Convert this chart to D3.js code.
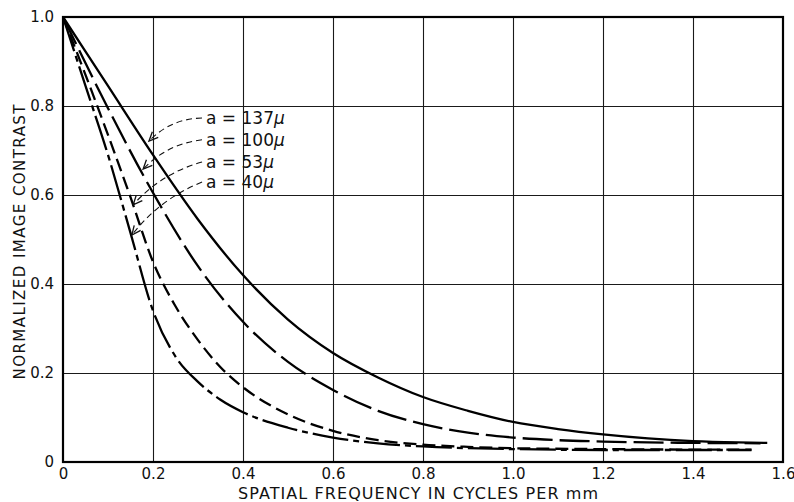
<!DOCTYPE html>
<html>
<head>
<meta charset="utf-8">
<script src="https://cdn.jsdelivr.net/npm/d3@7"></script>
<style>
  html, body { margin: 0; padding: 0; background: #fff; }
  svg { display: block; }
  text { font-family: "DejaVu Sans", "Liberation Sans", sans-serif; fill: #111; }
</style>
</head>
<body>
<svg id="chart" width="794" height="502"></svg>
<script>
// Spatial frequency (cycles per mm) and normalized contrast for each aperture size
const freq137 = [0, 0.1, 0.2, 0.3, 0.4, 0.5, 0.6, 0.7, 0.8, 0.9, 1.0, 1.1, 1.2, 1.3, 1.4, 1.5, 1.565];
const con137  = [1, 0.845, 0.69, 0.545, 0.42, 0.32, 0.245, 0.19, 0.146, 0.115, 0.09, 0.074, 0.062, 0.053, 0.047, 0.044, 0.043];

const freq100 = [0, 0.1, 0.2, 0.3, 0.4, 0.5, 0.6, 0.7, 0.8, 0.9, 1.0, 1.1, 1.2, 1.3, 1.4, 1.55];
const con100  = [1, 0.795, 0.605, 0.44, 0.315, 0.225, 0.162, 0.115, 0.085, 0.066, 0.055, 0.049, 0.046, 0.044, 0.043, 0.042];

const freq53 = [0, 0.05, 0.1, 0.15, 0.2, 0.25, 0.3, 0.35, 0.4, 0.5, 0.6, 0.7, 0.8, 0.9, 1.0, 1.2, 1.4, 1.53];
const con53  = [1, 0.87, 0.735, 0.595, 0.45, 0.35, 0.274, 0.213, 0.168, 0.107, 0.07, 0.049, 0.039, 0.034, 0.031, 0.029, 0.028, 0.028];

const freq40 = [0, 0.05, 0.1, 0.15, 0.2, 0.25, 0.3, 0.35, 0.4, 0.5, 0.6, 0.7, 0.8, 0.9, 1.0, 1.2, 1.4, 1.53];
const con40  = [1, 0.845, 0.69, 0.515, 0.34, 0.237, 0.18, 0.14, 0.112, 0.077, 0.055, 0.042, 0.035, 0.031, 0.029, 0.027, 0.027, 0.027];

const seriesNames = ["a = 137", "a = 100", "a = 53", "a = 40"];

// Axis ticks
const xTickValues = [0, 0.2, 0.4, 0.6, 0.8, 1.0, 1.2, 1.4, 1.6];
const xTickLabels = ["0", "0.2", "0.4", "0.6", "0.8", "1.0", "1.2", "1.4", "1.6"];
const yTickValues = [0, 0.2, 0.4, 0.6, 0.8, 1.0];
const yTickLabels = ["0", "0.2", "0.4", "0.6", "0.8", "1.0"];

// Callout leaders: label anchor and arrow tip, in data units
const noteStartX = [0.309, 0.309, 0.309, 0.309];
const noteStartY = [0.773, 0.724, 0.674, 0.629];
const noteTipX = [0.191, 0.178, 0.156, 0.153];
const noteTipY = [0.721, 0.658, 0.578, 0.510];

const xTitle = "SPATIAL FREQUENCY IN CYCLES PER mm";
const yTitle = "NORMALIZED IMAGE CONTRAST";

const W = 794, H = 502;
const margin = { left: 63, top: 17, right: 11, bottom: 40 };
const innerW = W - margin.left - margin.right;
const innerH = H - margin.top - margin.bottom;

const x = d3.scaleLinear().domain([0, 1.6]).range([margin.left, margin.left + innerW]);
const y = d3.scaleLinear().domain([0, 1]).range([margin.top + innerH, margin.top]);

const svg = d3.select("#chart");

// Grid
const gx = svg.append("g")
  .attr("transform", `translate(0,${margin.top + innerH})`)
  .call(d3.axisBottom(x).tickValues(xTickValues.slice(1, -1)).tickSize(-innerH).tickFormat(""));
gx.select(".domain").remove();
gx.selectAll("line").attr("stroke", "#1a1a1a").attr("stroke-width", 1.1);

const gy = svg.append("g")
  .attr("transform", `translate(${margin.left},0)`)
  .call(d3.axisLeft(y).tickValues(yTickValues.slice(1, -1)).tickSize(-innerW).tickFormat(""));
gy.select(".domain").remove();
gy.selectAll("line").attr("stroke", "#1a1a1a").attr("stroke-width", 1.1);

// Tick labels
const ax = svg.append("g")
  .attr("transform", `translate(0,${margin.top + innerH})`)
  .call(d3.axisBottom(x).tickValues(xTickValues).tickSize(0).tickPadding(6)
    .tickFormat((d, i) => xTickLabels[i]));
ax.select(".domain").remove();
ax.selectAll("text").attr("font-size", 15).attr("fill", "#111")
  .attr("font-family", "DejaVu Sans, sans-serif");

const ay = svg.append("g")
  .attr("transform", `translate(${margin.left},0)`)
  .call(d3.axisLeft(y).tickValues(yTickValues).tickSize(0).tickPadding(9)
    .tickFormat((d, i) => yTickLabels[i]));
ay.select(".domain").remove();
ay.selectAll("text").attr("font-size", 15).attr("fill", "#111")
  .attr("font-family", "DejaVu Sans, sans-serif");

// Frame
svg.append("rect")
  .attr("x", x(0)).attr("y", y(1))
  .attr("width", x(1.6) - x(0)).attr("height", y(0) - y(1))
  .attr("fill", "none").attr("stroke", "#000").attr("stroke-width", 2.2);

// Curves
const series = [
  { xs: freq137, ys: con137, dash: null },
  { xs: freq100, ys: con100, dash: "30,7" },
  { xs: freq53,  ys: con53,  dash: "13,6" },
  { xs: freq40,  ys: con40,  dash: "36,5,6,5" }
];

const line = d3.line()
  .x(d => x(d[0]))
  .y(d => y(d[1]))
  .curve(d3.curveMonotoneX);

series.forEach((s, i) => {
  const pts = s.xs.map((v, j) => [v, s.ys[j]]);
  svg.append("path")
    .datum(pts)
    .attr("d", line)
    .attr("fill", "none")
    .attr("stroke", "#000")
    .attr("stroke-width", 2.3)
    .attr("stroke-dasharray", s.dash)
    .attr("class", "curve-" + i);
});

// Callouts
seriesNames.forEach((name, i) => {
  const sx = x(noteStartX[i]), sy = y(noteStartY[i]);
  const tx = x(noteTipX[i]), ty = y(noteTipY[i]);
  const mx = (sx + tx) / 2, my = (sy + ty) / 2;
  const dx = tx - sx, dy = ty - sy;
  const len = Math.hypot(dx, dy);
  // bow the leader upward
  let px = dy / len, py = -dx / len;
  if (py > 0) { px = -px; py = -py; }
  const bow = 12;
  const cx = mx + px * bow, cy = my + py * bow;

  const p = d3.path();
  p.moveTo(sx, sy);
  p.quadraticCurveTo(cx, cy, tx, ty);
  svg.append("path")
    .attr("d", p.toString())
    .attr("fill", "none")
    .attr("stroke", "#111")
    .attr("stroke-width", 1.1)
    .attr("stroke-dasharray", "6,4");

  // open arrowhead
  const ang = Math.atan2(ty - cy, tx - cx);
  const hl = 10, spread = 0.42;
  const ah = d3.path();
  ah.moveTo(tx - hl * Math.cos(ang - spread), ty - hl * Math.sin(ang - spread));
  ah.lineTo(tx, ty);
  ah.lineTo(tx - hl * Math.cos(ang + spread), ty - hl * Math.sin(ang + spread));
  svg.append("path")
    .attr("d", ah.toString())
    .attr("fill", "none")
    .attr("stroke", "#111")
    .attr("stroke-width", 1.3);

  const t = svg.append("text")
    .attr("x", sx + 4)
    .attr("y", sy + 6)
    .attr("font-size", 17);
  t.append("tspan").text(name);
  t.append("tspan").attr("font-style", "italic").text("μ");
});

// Axis titles
svg.append("text")
  .attr("x", 418).attr("y", 499)
  .attr("text-anchor", "middle")
  .attr("font-size", 16)
  .attr("textLength", 360)
  .attr("lengthAdjust", "spacing")
  .text(xTitle);

svg.append("text")
  .attr("transform", `translate(25,242) rotate(-90)`)
  .attr("text-anchor", "middle")
  .attr("font-size", 15)
  .attr("textLength", 275)
  .attr("lengthAdjust", "spacing")
  .text(yTitle);
</script>
</body>
</html>
